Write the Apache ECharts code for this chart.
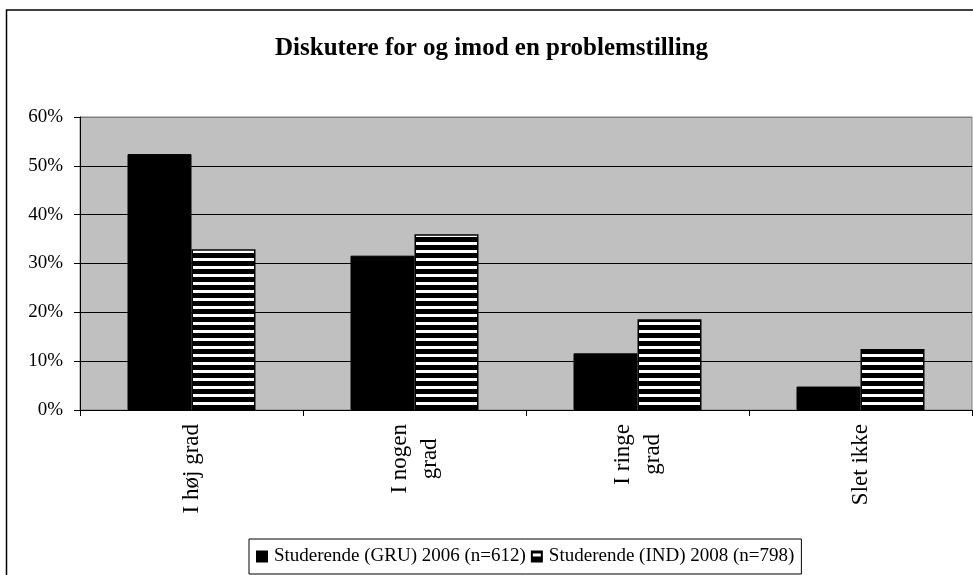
<!DOCTYPE html>
<html>
<head>
<meta charset="utf-8">
<script src="https://cdn.jsdelivr.net/npm/echarts@6/dist/echarts.min.js"></script>
<style>
html,body{margin:0;padding:0;background:#fff;}
#chart{width:973px;height:575px;}
</style>
</head>
<body>
<div id="chart"></div>
<script>
const titleText = 'Diskutere for og imod en problemstilling';
const categories = ['I høj grad', 'I nogen\ngrad', 'I ringe\ngrad', 'Slet ikke'];
const seriesNames = ['Studerende (GRU) 2006 (n=612)', 'Studerende (IND) 2008 (n=798)'];
const gru2006 = [52.4, 31.6, 11.6, 4.8];
const ind2008 = [32.9, 36.0, 18.6, 12.5];
const yTicks = { min: 0, max: 60, interval: 10 };

const serif = '"Liberation Serif", "DejaVu Serif", serif';

// horizontal stripe pattern
const pc = document.createElement('canvas');
pc.width = 8; pc.height = 8;
const pctx = pc.getContext('2d');
pctx.fillStyle = '#000';
pctx.fillRect(0, 0, 8, 8);
pctx.fillStyle = '#fff';
pctx.fillRect(0, 2, 8, 3);

const chart = echarts.init(document.getElementById('chart'), null, { renderer: 'canvas' });

const option = {
  backgroundColor: '#fff',
  animation: false,
  graphic: [{
    type: 'rect',
    silent: true,
    z: -10,
    shape: { x: 6.5, y: 10, width: 1000, height: 620 },
    style: { fill: 'none', stroke: '#000', lineWidth: 1.5 }
  }],
  title: {
    text: titleText,
    left: 275,
    top: 36,
    padding: 0,
    textStyle: { fontFamily: serif, fontWeight: 'bold', fontSize: 25, color: '#000' }
  },
  legend: {
    left: 249,
    top: 539,
    padding: [8, 7, 8, 7],
    itemWidth: 10,
    itemHeight: 10,
    itemGap: 5,
    borderColor: '#000',
    borderWidth: 1,
    icon: 'rect',
    textStyle: { fontFamily: serif, fontSize: 19, color: '#000', padding: [0, 0, 0, 2] },
    data: seriesNames
  },
  grid: {
    left: 80,
    right: 1,
    top: 117,
    bottom: 165,
    show: true,
    backgroundColor: '#c0c0c0',
    borderColor: '#808080',
    borderWidth: 1
  },
  xAxis: {
    type: 'category',
    data: categories,
    axisLine: { show: true, lineStyle: { color: '#000', width: 1 } },
    axisTick: { show: true, length: 6, alignWithLabel: false, lineStyle: { color: '#000' } },
    axisLabel: {
      rotate: 90,
      margin: 14,
      interval: 0,
      color: '#000',
      fontFamily: serif,
      fontSize: 23,
      lineHeight: 30,
      formatter: function (v) {
        const lines = v.split('\n');
        if (lines.length === 1) return v;
        return lines.map(function (l) { return '{c|' + l + '}'; }).join('\n');
      },
      rich: {
        c: { align: 'center', fontFamily: serif, fontSize: 23, lineHeight: 30, color: '#000' }
      }
    }
  },
  yAxis: {
    type: 'value',
    min: yTicks.min,
    max: yTicks.max,
    interval: yTicks.interval,
    axisLine: { show: true, lineStyle: { color: '#000', width: 1 } },
    axisTick: { show: true, length: 6, lineStyle: { color: '#000' } },
    axisLabel: {
      margin: 17,
      color: '#000',
      fontFamily: serif,
      fontSize: 19,
      formatter: '{value}%'
    },
    splitLine: {
      show: true,
      lineStyle: { color: ['#000', '#000', '#000', '#000', '#000', '#000', '#808080'], width: 1 }
    }
  },
  series: [
    {
      name: seriesNames[0],
      type: 'bar',
      data: gru2006,
      barWidth: 64,
      barGap: '0%',
      itemStyle: { color: '#000', borderColor: '#000', borderWidth: 1 }
    },
    {
      name: seriesNames[1],
      type: 'bar',
      data: ind2008,
      barWidth: 64,
      barGap: '0%',
      itemStyle: {
        color: { image: pc, repeat: 'repeat' },
        borderColor: '#000',
        borderWidth: 1.5
      }
    }
  ]
};

chart.setOption(option);
</script>
</body>
</html>
